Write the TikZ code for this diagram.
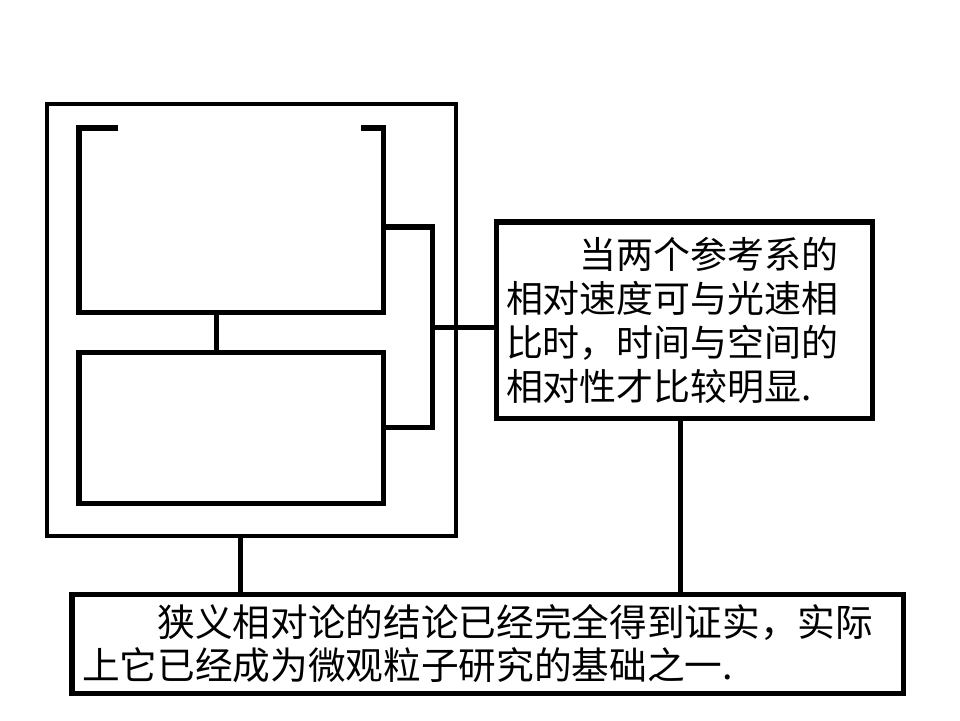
\documentclass[tikz,border=0pt]{standalone}
\usepackage{fontspec}
\newfontfamily\cjk{Noto Sans CJK SC}
\begin{document}
\begin{tikzpicture}[
    thin frame/.style={draw, line width=2.85pt, inner sep=0pt, outer sep=0pt},
    thick frame/.style={line width=3.56pt, line join=miter},
    textbox/.style={draw, line width=3.56pt, inner xsep=0.25cm, inner ysep=0pt,
      outer sep=0pt, align=left, font=\cjk\fontsize{26.3pt}{31.3pt}\selectfont},
    link/.style={line width=3.56pt}]
	\useasboundingbox (0,0) rectangle (24,18);
	% left part: the frame with its two inner boxes
	\node[thin frame, minimum width=10.225cm, minimum height=10.8cm] (outer) at (6.2875,10) {};
	\node[inner sep=0pt, outer sep=0pt, minimum width=7.6cm, minimum height=4.6cm] (upper) at (5.775,12.5) {};
	\node[inner sep=0pt, outer sep=0pt, minimum width=7.6cm, minimum height=3.775cm] (lower) at (5.775,7.3125) {};
	\draw[thick frame] ([xshift=0.975cm]upper.north west) -- (upper.north west) -- (upper.south west)
		-- (upper.south east) -- (upper.north east) -- ([xshift=-0.55cm]upper.north east);
	\draw[thick frame] (lower.north west) rectangle (lower.south east);
	\draw[link] ([xshift=-0.375cm]upper.south) -- ([xshift=-0.375cm]lower.north);
	% right and bottom text boxes
	\node[textbox, text width=8.9cm, minimum height=4.9cm] (rbox) at (17.1,10) {%
		\hspace*{2em}当两个参考系的\\相对速度可与光速相\\比时，时间与空间的\\相对性才比较明显.};
	\node[textbox, text width=20.275cm, minimum height=2.475cm,
		font=\cjk\fontsize{26.8pt}{31pt}\selectfont] (bot) at (12.1875,1.9125) {%
		\hspace*{2em}狭义相对论的结论已经完全得到证实，实际\\上它已经成为微观粒子研究的基础之一.};
	% connectors
	\coordinate (bus) at (10.8,9.825);
	\draw[thick frame] ([yshift=-0.175cm]upper.east) -| (bus) |- (lower.east);
	\draw[link] (bus) -- (bus -| rbox.west);
	\draw[link] ([xshift=-0.2875cm]outer.south) -- ([xshift=-0.2875cm]outer.south |- bot.north);
	\draw[link] ([xshift=-0.1cm]rbox.south) -- ([xshift=-0.1cm]rbox.south |- bot.north);
\end{tikzpicture}
\end{document}
